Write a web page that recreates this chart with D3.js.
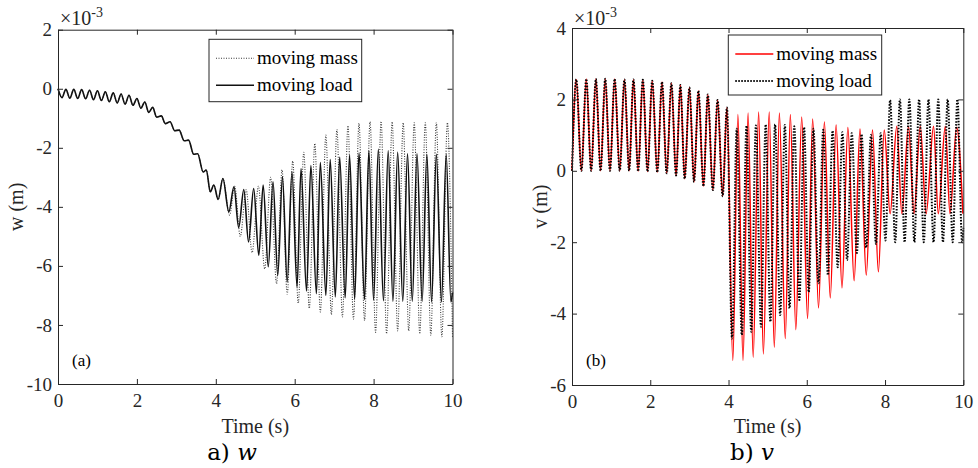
<!DOCTYPE html>
<html>
<head>
<meta charset="utf-8">
<script src="https://cdn.jsdelivr.net/npm/d3@7"></script>
<style>
  body { margin: 0; background: #fff; }
  svg { display: block; font-family: "Liberation Serif", "Times New Roman", serif; }
  .tick text { fill: #262626; }
</style>
</head>
<body>
<svg id="chart" width="978" height="468"></svg>
<script>
// ---- data (values in units of 1e-3 m), [time (s), displacement] at each turning point ----
const xTicks = [0, 2, 4, 6, 8, 10];
const wTicks = [2, 0, -2, -4, -6, -8, -10];
const vTicks = [4, 2, 0, -2, -4, -6];

// w: both cases identical until ~4.2 s
const wCommon = [[0,0],[0.1,-0.3],[0.2,-0.02],[0.3,-0.32],[0.4,-0.02],[0.5,-0.33],[0.6,-0.03],[0.7,-0.34],
  [0.8,-0.05],[0.9,-0.37],[1.0,-0.07],[1.1,-0.4],[1.2,-0.1],[1.3,-0.44],[1.4,-0.14],[1.5,-0.48],[1.6,-0.18],
  [1.7,-0.52],[1.8,-0.22],[1.9,-0.56],[2.0,-0.33],[2.1,-0.66],[2.2,-0.45],[2.3,-0.8],[2.4,-0.63],[2.5,-0.96],
  [2.62,-0.92],[2.72,-1.18],[2.84,-1.12],[2.96,-1.42],[3.07,-1.4],[3.2,-1.76],[3.31,-1.74],[3.44,-2.22],
  [3.54,-2.2],[3.68,-2.82],[3.76,-2.75],[3.86,-3.49],[3.95,-3.26],[4.06,-3.75],[4.18,-3.04]];
const wMassTail = [[4.35,-4.28],[4.48,-3.3],[4.62,-5.0],[4.77,-3.42],[4.92,-5.55],[5.08,-3.3],[5.24,-6.1],
  [5.39,-3.0],[5.54,-6.6],[5.68,-2.75],[5.81,-6.96],[5.95,-2.45],[6.09,-7.27],[6.23,-2.15],[6.37,-7.44],
  [6.51,-1.85],[6.65,-7.56],[6.79,-1.57],[6.93,-7.65],[7.07,-1.38],[7.21,-7.73],[7.35,-1.25],[7.49,-7.8],
  [7.63,-1.17],[7.77,-7.85],[7.91,-1.12],[8.05,-8.25],[8.19,-1.1],[8.33,-8.3],[8.47,-1.12],[8.61,-8.2],
  [8.75,-1.15],[8.89,-8.2],[9.03,-1.15],[9.17,-8.3],[9.31,-1.15],[9.45,-8.35],[9.59,-1.15],[9.73,-8.4],
  [9.87,-1.15],[10,-8.4]];
const wLoadTail = [[4.33,-4.17],[4.46,-3.32],[4.58,-4.7],[4.71,-3.41],[4.83,-5.19],[4.96,-3.38],[5.09,-5.64],
  [5.2,-3.26],[5.33,-6.03],[5.45,-3.15],[5.57,-6.32],[5.69,-2.98],[5.81,-6.54],[5.93,-2.81],[6.06,-6.71],
  [6.16,-2.7],[6.3,-6.85],[6.41,-2.6],[6.55,-6.94],[6.65,-2.5],[6.79,-7.0],[6.9,-2.4],[7.03,-7.05],[7.14,-2.32],
  [7.28,-7.08],[7.39,-2.25],[7.52,-7.12],[7.63,-2.18],[7.77,-7.14],[7.88,-2.1],[8.0,-7.16],[8.12,-2.05],
  [8.25,-7.18],[8.37,-2.1],[8.49,-7.2],[8.61,-2.15],[8.74,-7.2],[8.86,-2.2],[8.98,-7.2],[9.1,-2.2],
  [9.23,-7.2],[9.35,-2.22],[9.47,-7.22],[9.59,-2.22],[9.72,-7.22],[9.84,-2.22],[9.96,-7.22],[10,-6.9]];

// v: both cases identical until ~4 s
const vCommon = [[0,0],[0.11,2.56],[0.24,0],[0.365,2.57],[0.49,0],[0.61,2.57],[0.73,0],[0.85,2.58],[0.97,0],
  [1.09,2.57],[1.22,0],[1.34,2.56],[1.46,0],[1.57,2.56],[1.69,-0.01],[1.81,2.55],[1.93,-0.02],[2.05,2.52],
  [2.18,-0.04],[2.3,2.49],[2.42,-0.07],[2.54,2.45],[2.66,-0.13],[2.77,2.4],[2.88,-0.22],[3.0,2.33],
  [3.12,-0.31],[3.23,2.24],[3.36,-0.43],[3.47,2.14],[3.6,-0.54],[3.72,1.98],[3.85,-0.71],[3.96,1.77]];
const vMassTail = [[4.11,-5.31],[4.24,1.58],[4.37,-5.31],[4.5,1.62],[4.63,-5.22],[4.77,1.65],[4.89,-5.13],
  [5.04,1.65],[5.17,-4.94],[5.3,1.62],[5.45,-4.7],[5.58,1.58],[5.72,-4.45],[5.87,1.51],[6.02,-4.14],
  [6.15,1.45],[6.3,-3.84],[6.45,1.37],[6.6,-3.56],[6.75,1.28],[6.9,-3.28],[7.05,1.21],[7.21,-3.08],
  [7.36,1.17],[7.52,-2.92],[7.68,1.14],[7.83,-2.83],[7.98,1.14],[8.13,-1.2],[8.3,1.25],[8.43,-1.2],
  [8.6,1.25],[8.74,-1.2],[8.9,1.25],[9.05,-1.2],[9.24,1.25],[9.36,-1.2],[9.54,1.25],[9.66,-1.2],
  [9.83,1.22],[9.99,-1.2]];
const vLoadTail = [[4.09,-4.7],[4.21,1.18],[4.34,-4.6],[4.46,1.26],[4.58,-4.51],[4.7,1.27],[4.83,-4.37],
  [4.95,1.3],[5.07,-4.23],[5.19,1.3],[5.32,-4.04],[5.44,1.28],[5.56,-3.85],[5.68,1.25],[5.81,-3.62],
  [5.93,1.22],[6.05,-3.4],[6.17,1.18],[6.3,-3.15],[6.42,1.15],[6.54,-2.92],[6.66,1.12],[6.79,-2.7],
  [6.91,1.08],[7.03,-2.5],[7.15,1.05],[7.28,-2.3],[7.4,1.02],[7.52,-2.15],[7.64,1.0],[7.77,-2.05],
  [7.89,1.05],[8.01,-1.95],[8.13,1.98],[8.26,-2.0],[8.38,2.0],[8.5,-2.0],[8.62,2.0],[8.75,-2.0],
  [8.87,2.0],[8.99,-2.0],[9.11,2.0],[9.24,-2.0],[9.36,2.0],[9.48,-2.0],[9.6,2.0],[9.73,-2.0],
  [9.85,2.0],[9.97,-2.0],[10,-1.6]];

const svg = d3.select('#chart');
const ink = '#262626';

function panel (opt) {
  const { x, y, yTicks, ylabel, tag, caption, capSym, series, legend, legendBox } = opt;
  const g = svg.append('g');
  const [x0, x1] = x.range(), [y0, y1] = y.range();

  // ---- curves ----
  const line = d3.line().x(d => x(d[0])).y(d => y(d[1])).curve(d3.curveMonotoneX);
  series.forEach(s => {
    g.append('path').datum(s.data)
      .attr('d', line)
      .attr('fill', 'none')
      .attr('stroke', s.color)
      .attr('stroke-width', s.width)
      .attr('stroke-dasharray', s.dash || null);
  });

  // ---- axes, MATLAB style box with inward ticks ----
  const fmt = d => d < 0 ? '-' + Math.abs(d) : d;
  const axes = [
    [d3.axisBottom(x).tickValues(xTicks).tickFormat(fmt).tickPadding(10), `translate(0,${y0})`],
    [d3.axisTop(x).tickValues(xTicks).tickFormat(''), `translate(0,${y1})`],
    [d3.axisLeft(y).tickValues(yTicks).tickFormat(fmt).tickPadding(6), `translate(${x0},0)`],
    [d3.axisRight(y).tickValues(yTicks).tickFormat(''), `translate(${x1},0)`]
  ];
  axes.forEach(([ax, tr]) => {
    const a = g.append('g').attr('transform', tr)
      .call(ax.tickSizeInner(-5).tickSizeOuter(0));
    a.select('.domain').attr('stroke', ink);
    a.selectAll('.tick line').attr('stroke', ink);
    a.selectAll('.tick text').attr('font-size', 19).attr('font-family', 'Liberation Serif');
  });

  // exponent
  const ex = g.append('text').attr('x', x0 + 2).attr('y', 25).attr('fill', ink).attr('font-size', 20);
  ex.append('tspan').text('\u00d710');
  ex.append('tspan').attr('dy', -8).attr('font-size', 14).text('-3');

  g.append('text')
    .attr('transform', `translate(${opt.ylabelX},${(y0 + y1) / 2}) rotate(-90)`)
    .attr('text-anchor', 'middle').attr('dy', '0.35em')
    .attr('font-size', 20).attr('fill', ink)
    .text(ylabel);

  g.append('text').attr('x', (x0 + x1) / 2).attr('y', 433)
    .attr('text-anchor', 'middle').attr('font-size', 20).attr('fill', ink)
    .text('Time (s)');

  g.append('text').attr('x', x0 + 14).attr('y', 366)
    .attr('font-size', 17).attr('fill', '#000').text(tag);

  const cap = g.append('text').attr('x', opt.capX).attr('y', 460)
    .attr('text-anchor', 'middle').attr('font-size', 23).attr('fill', '#000')
    .attr('font-family', 'DejaVu Serif, serif');
  cap.append('tspan').text(caption + ' ');
  cap.append('tspan').attr('font-style', 'italic').text(capSym);

  // ---- legend ----
  const [lx, ly, lw, lh] = legendBox;
  const lg = g.append('g');
  lg.append('rect').attr('x', lx).attr('y', ly).attr('width', lw).attr('height', lh)
    .attr('fill', '#fff').attr('stroke', ink).attr('stroke-width', 1);
  legend.forEach((s, i) => {
    const cy = ly + 19 + i * 27;
    lg.append('line')
      .attr('x1', lx + 7).attr('x2', lx + 45).attr('y1', cy).attr('y2', cy)
      .attr('stroke', s.color).attr('stroke-width', s.width)
      .attr('stroke-dasharray', s.dash || null);
    lg.append('text').attr('x', lx + 48).attr('y', cy + 6)
      .attr('font-size', 19).attr('fill', '#000').text(s.name);
  });
}

const wMass = { name: 'moving mass', data: wCommon.concat(wMassTail), color: '#3a3a3a', width: 1.1, dash: '1,1.5' };
const wLoad = { name: 'moving load', data: wCommon.concat(wLoadTail), color: '#111', width: 1.6 };
panel({
  x: d3.scaleLinear().domain([0, 10]).range([58, 452.5]),
  y: d3.scaleLinear().domain([-10, 2]).range([384, 29.7]),
  yTicks: wTicks, ylabel: 'w (m)', ylabelX: 16, tag: '(a)',
  caption: 'a)', capSym: 'w', capX: 232,
  series: [wMass, wLoad],
  legend: [wMass, wLoad],
  legendBox: [209, 39.3, 152.7, 62.4]
});

const vMass = { name: 'moving mass', data: vCommon.concat(vMassTail), color: '#ff0000', width: 1.5 };
const vLoad = { name: 'moving load', data: vCommon.concat(vLoadTail), color: '#000', width: 2, dash: '1.5,1.5' };
panel({
  x: d3.scaleLinear().domain([0, 10]).range([572, 963.3]),
  y: d3.scaleLinear().domain([-6, 4]).range([385, 28]),
  yTicks: vTicks, ylabel: 'v (m)', ylabelX: 540, tag: '(b)',
  caption: 'b)', capSym: 'v', capX: 752,
  series: [vMass, vLoad],
  legend: [vMass, vLoad],
  legendBox: [728.3, 35, 153.4, 60]
});
</script>
</body>
</html>
